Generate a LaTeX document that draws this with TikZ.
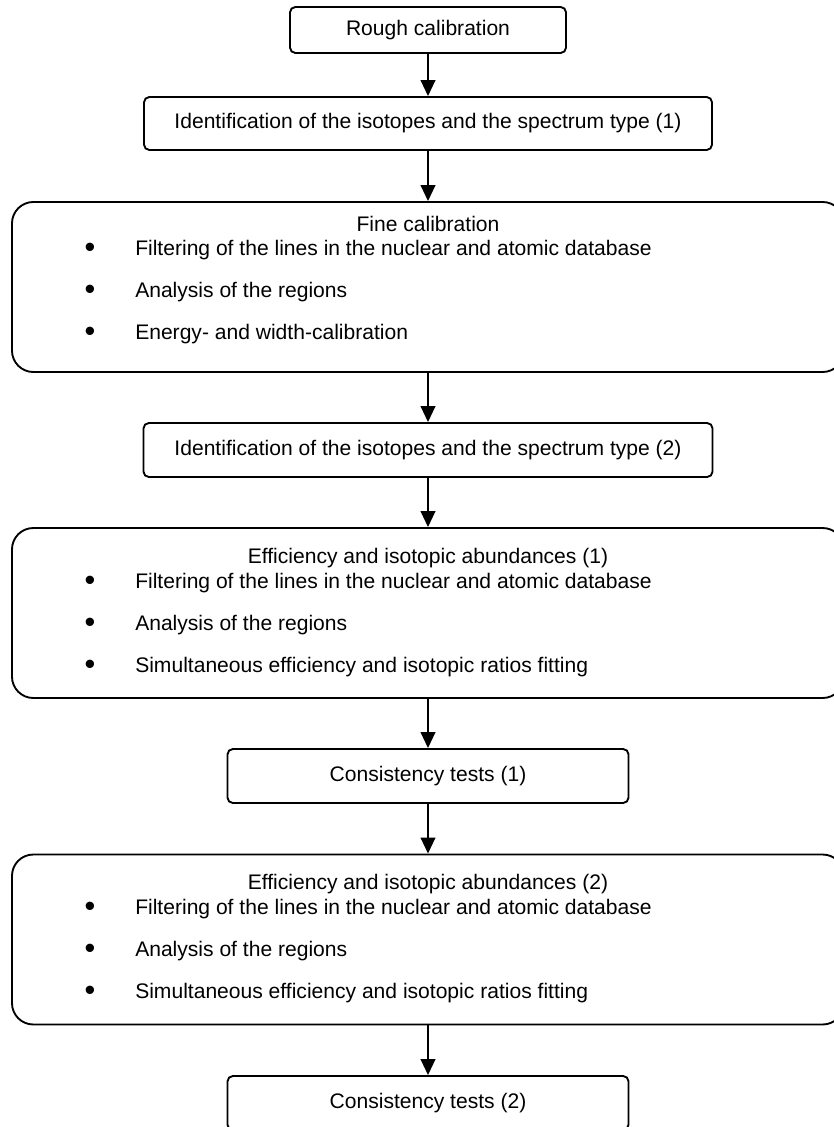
\documentclass[tikz,border=0pt]{standalone}
\usepackage{fontspec}
\setmainfont{Liberation Sans}
\usetikzlibrary{arrows.meta}

\tikzset{
    stepbox/.style={draw, line width=1.4pt, rounded corners=4pt, inner sep=0pt, minimum height=40.5pt},
    bigbox/.style={draw, line width=1.4pt, rounded corners=16pt, inner sep=0pt, minimum width=624pt, minimum height=127.5pt},
    txt/.style={inner sep=0pt, text height=11pt, text depth=3pt},
    dot/.style={inner sep=0pt, font=\fontsize{23}{23}\selectfont},
    flow/.style={line width=1.4pt, -{Triangle[width=11pt, length=12pt]}}
}

\begin{document}
\begin{tikzpicture}[x=0.75pt, y=-0.75pt, font=\fontsize{15.8}{19}\selectfont]
            \path[use as bounding box, clip] (0,0) rectangle (834,1127);

            % small boxes
            \node[stepbox, minimum width=207pt, minimum height=34.5pt] (rough) at (428,30) {Rough calibration};
            \node[stepbox, minimum width=426pt, minimum height=39.75pt] (ident1) at (428,123.5) {Identification of the isotopes and the spectrum type (1)};
            \node[stepbox, minimum width=426.75pt] (ident2) at (428,450) {Identification of the isotopes and the spectrum type (2)};
            \node[stepbox, minimum width=300.75pt] (cons1) at (428,776) {Consistency tests (1)};
            \node[stepbox, minimum width=300.75pt] (cons2) at (428,1103) {Consistency tests (2)};

            % big boxes
            \node[bigbox] (fine) at (428,287) {};
            \node[bigbox] (eff1) at (428,613) {};
            \node[bigbox] (eff2) at (428,939.5) {};

            \node[txt] (finetitle) at (428,226) {Fine calibration};
            \node[txt] (eff1title) at (428,558) {Efficiency and isotopic abundances (1)};
            \node[txt] (eff2title) at (428,884) {Efficiency and isotopic abundances (2)};

            \foreach \txt [count=\i] in {Filtering of the lines in the nuclear and atomic database, Analysis of the regions, Energy- and width-calibration} {
                \node[dot] (finedot\i) at (90,{250+42*(\i-1)}) {•};
                \node[txt, anchor=west] (fineitem\i) at (135,{250+42*(\i-1)}) {\txt};
            }
            \foreach \txt [count=\i] in {Filtering of the lines in the nuclear and atomic database, Analysis of the regions, Simultaneous efficiency and isotopic ratios fitting} {
                \node[dot] (eff1dot\i) at (90,{583+42*(\i-1)}) {•};
                \node[txt, anchor=west] (eff1item\i) at (135,{583+42*(\i-1)}) {\txt};
                \node[dot] (eff2dot\i) at (90,{909+42*(\i-1)}) {•};
                \node[txt, anchor=west] (eff2item\i) at (135,{909+42*(\i-1)}) {\txt};
            }

            \foreach \a/\b in {rough/ident1, ident1/fine, fine/ident2, ident2/eff1, eff1/cons1, cons1/eff2, eff2/cons2} {
                \draw[flow] (\a) -- (\b);
            }
        \end{tikzpicture}
\end{document}
